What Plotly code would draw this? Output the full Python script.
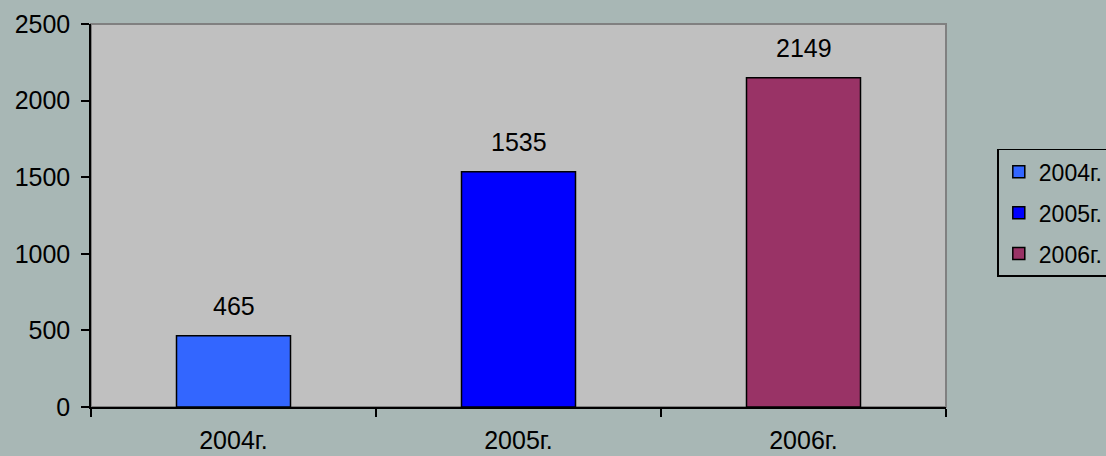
import plotly.graph_objects as go

categories = ["2004г.", "2005г.", "2006г."]
values = [465, 1535, 2149]
series_names = ["2004г.", "2005г.", "2006г."]
colors = ["#3366FF", "#0000FF", "#993366"]

FONT = "Liberation Sans, Arial"

fig = go.Figure()
for cat, val, name, col in zip(categories, values, series_names, colors):
    fig.add_trace(go.Bar(
        x=[cat], y=[val], name=name, legendgroup=name,
        marker=dict(color=col, line=dict(color="black", width=1.5)),
        width=0.4,
    ))
    fig.add_annotation(x=cat, y=val, text=str(val), showarrow=False,
                       yanchor="bottom", yshift=14,
                       font=dict(family=FONT, size=25, color="black"))

fig.update_layout(
    width=1106, height=456,
    barmode="overlay",
    paper_bgcolor="#a8b7b5",
    plot_bgcolor="#C0C0C0",
    margin=dict(l=91, r=160, t=24, b=49, autoexpand=False),
    font=dict(family=FONT, size=25, color="black"),
    showlegend=True,
    legend=dict(x=1.060, y=0.674, xanchor="left", yanchor="top",
                bgcolor="rgba(0,0,0,0)", bordercolor="black", borderwidth=1.5,
                font=dict(size=23), tracegroupgap=8, itemwidth=30),
)
fig.add_shape(type="rect", xref="paper", yref="paper", x0=0, y0=0, x1=1, y1=1,
              line=dict(color="#808080", width=2), layer="below")
fig.update_xaxes(showline=True, linecolor="black", linewidth=1.5, ticks="outside",
                 tickson="boundaries", ticklen=8, tickcolor="black", tickwidth=1.5,
                 showgrid=False, tickfont=dict(size=25), ticklabelstandoff=10)
fig.update_yaxes(range=[0, 2500], dtick=500, showline=True, linecolor="black", linewidth=1.5,
                 ticks="outside", ticklen=8, tickcolor="black", tickwidth=1.5,
                 showgrid=False, zeroline=False, tickfont=dict(size=25), ticklabelstandoff=6)

fig.write_html("out.html", config={"displayModeBar": False},
               post_script="document.body.style.margin='0';document.body.style.background='#a8b7b5';")
